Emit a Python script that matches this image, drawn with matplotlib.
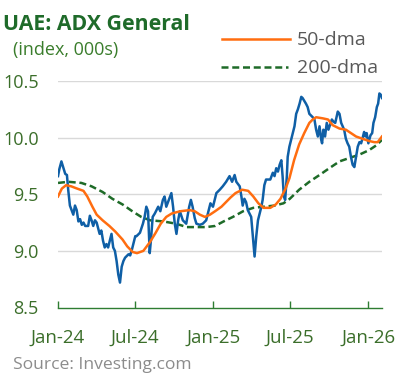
import matplotlib.pyplot as plt
from matplotlib.lines import Line2D
import pandas as pd

plt.rcParams['font.family'] = ['Open Sans', 'DejaVu Sans']

# ADX General index, thousands
price_dates = [
    '2024-01-01', '2024-01-04', '2024-01-09', '2024-01-14', '2024-01-18', '2024-01-22',
    '2024-01-25', '2024-01-29', '2024-02-02', '2024-02-06', '2024-02-10', '2024-02-14',
    '2024-02-18', '2024-02-22', '2024-02-26', '2024-03-01', '2024-03-05', '2024-03-12',
    '2024-03-16', '2024-03-20', '2024-03-24', '2024-03-28', '2024-04-01', '2024-04-08',
    '2024-04-12', '2024-04-16', '2024-04-20', '2024-04-24', '2024-04-28', '2024-05-02',
    '2024-05-06', '2024-05-10', '2024-05-14', '2024-05-18', '2024-05-22', '2024-05-26',
    '2024-05-30', '2024-06-03', '2024-06-07', '2024-06-15', '2024-06-19', '2024-06-23',
    '2024-06-27', '2024-07-01', '2024-07-04', '2024-07-12', '2024-07-19', '2024-07-23',
    '2024-07-27', '2024-07-31', '2024-08-04', '2024-08-07', '2024-08-11', '2024-08-16',
    '2024-08-24', '2024-08-29', '2024-09-04', '2024-09-08', '2024-09-12', '2024-09-19',
    '2024-09-24', '2024-09-28', '2024-10-02', '2024-10-06', '2024-10-10', '2024-10-14',
    '2024-10-21', '2024-10-29', '2024-11-05', '2024-11-09', '2024-11-13', '2024-11-18',
    '2024-11-22', '2024-11-30', '2024-12-07', '2024-12-15', '2024-12-21', '2024-12-25',
    '2024-12-31', '2025-01-04', '2025-01-08', '2025-01-16', '2025-01-23', '2025-01-31',
    '2025-02-08', '2025-02-14', '2025-02-20', '2025-02-24', '2025-03-04', '2025-03-08',
    '2025-03-11', '2025-03-15', '2025-03-19', '2025-03-23', '2025-03-31', '2025-04-04',
    '2025-04-08', '2025-04-12', '2025-04-16', '2025-04-24', '2025-04-27', '2025-05-01',
    '2025-05-05', '2025-05-15', '2025-05-21', '2025-05-25', '2025-05-29', '2025-06-02',
    '2025-06-06', '2025-06-10', '2025-06-13', '2025-06-16', '2025-06-19', '2025-06-23',
    '2025-06-25', '2025-06-29', '2025-07-03', '2025-07-07', '2025-07-11', '2025-07-15',
    '2025-07-19', '2025-07-23', '2025-07-27', '2025-07-30', '2025-08-07', '2025-08-11',
    '2025-08-15', '2025-08-23', '2025-08-27', '2025-08-31', '2025-09-04', '2025-09-08',
    '2025-09-12', '2025-09-14', '2025-09-17', '2025-09-21', '2025-09-25', '2025-09-29',
    '2025-10-07', '2025-10-11', '2025-10-15', '2025-10-21', '2025-10-25', '2025-10-29',
    '2025-11-05', '2025-11-09', '2025-11-13', '2025-11-17', '2025-11-21', '2025-11-25',
    '2025-11-29', '2025-12-03', '2025-12-07', '2025-12-11', '2025-12-15', '2025-12-18',
    '2025-12-22', '2025-12-25', '2025-12-28', '2026-01-01', '2026-01-06', '2026-01-10',
    '2026-01-13', '2026-01-17', '2026-01-21', '2026-01-24', '2026-01-27', '2026-01-30',
    '2026-02-02',
]
price = [
    9.66, 9.72, 9.79, 9.73, 9.68, 9.67,
    9.54, 9.40, 9.36, 9.32, 9.40, 9.36,
    9.26, 9.28, 9.23, 9.25, 9.22, 9.22,
    9.31, 9.27, 9.22, 9.27, 9.25, 9.15,
    9.18, 9.09, 9.03, 9.06, 9.03, 9.09,
    9.15, 9.03, 9.00, 8.91, 8.79, 8.72,
    8.86, 8.91, 8.94, 8.97, 8.96, 9.01,
    9.07, 9.13, 9.13, 9.16, 9.24, 9.30,
    9.39, 9.35, 8.98, 9.10, 9.30, 9.33,
    9.39, 9.35, 9.45, 9.48, 9.39, 9.46,
    9.51, 9.39, 9.24, 9.15, 9.27, 9.35,
    9.27, 9.24, 9.39, 9.45, 9.39, 9.29,
    9.24, 9.23, 9.24, 9.27, 9.36, 9.42,
    9.39, 9.45, 9.51, 9.54, 9.57, 9.61,
    9.66, 9.61, 9.67, 9.61, 9.57, 9.48,
    9.40, 9.46, 9.43, 9.36, 9.30, 9.13,
    8.95, 9.13, 9.27, 9.39, 9.45, 9.58,
    9.63, 9.63, 9.69, 9.66, 9.73, 9.70,
    9.76, 9.80, 9.66, 9.48, 9.45, 9.66,
    9.83, 9.92, 9.98, 10.04, 10.10, 10.21,
    10.25, 10.30, 10.36, 10.35, 10.30, 10.27,
    10.21, 10.18, 10.16, 10.07, 10.01, 10.10,
    9.98, 9.95, 10.07, 10.01, 10.13, 10.07,
    10.16, 10.14, 10.13, 10.23, 10.21, 10.13,
    10.07, 9.99, 9.95, 9.92, 9.83, 9.76,
    9.74, 9.83, 9.92, 9.96, 9.95, 9.99,
    10.05, 10.01, 10.04, 9.95, 10.02, 10.04,
    10.13, 10.18, 10.27, 10.30, 10.39, 10.38,
    10.35,
]

# 50-day moving average
dma50_dates = [
    '2024-01-01', '2024-01-10', '2024-01-20', '2024-02-01', '2024-02-15', '2024-03-01',
    '2024-03-10', '2024-03-22', '2024-04-01', '2024-04-15', '2024-05-01', '2024-05-15',
    '2024-06-01', '2024-06-12', '2024-06-25', '2024-07-05', '2024-07-20', '2024-08-05',
    '2024-08-18', '2024-08-30', '2024-09-12', '2024-09-25', '2024-10-15', '2024-11-06',
    '2024-11-18', '2024-11-30', '2024-12-12', '2024-12-24', '2025-01-05', '2025-01-20',
    '2025-02-10', '2025-02-22', '2025-03-10', '2025-03-24', '2025-04-05', '2025-04-17',
    '2025-04-29', '2025-05-15', '2025-05-28', '2025-06-08', '2025-06-20', '2025-06-29',
    '2025-07-10', '2025-07-22', '2025-08-03', '2025-08-15', '2025-08-23', '2025-08-31',
    '2025-09-16', '2025-09-28', '2025-10-09', '2025-10-25', '2025-11-09', '2025-11-21',
    '2025-12-03', '2025-12-18', '2026-01-03', '2026-01-15', '2026-01-23', '2026-02-02',
]
dma50 = [
    9.48, 9.55, 9.58, 9.57, 9.55, 9.53,
    9.48, 9.39, 9.32, 9.27, 9.22, 9.17,
    9.10, 9.04, 8.99, 8.98, 9.00, 9.08,
    9.16, 9.24, 9.30, 9.33, 9.35, 9.36,
    9.35, 9.32, 9.30, 9.32, 9.35, 9.39,
    9.47, 9.51, 9.54, 9.53, 9.48, 9.42,
    9.38, 9.38, 9.41, 9.46, 9.55, 9.64,
    9.80, 9.94, 10.04, 10.13, 10.16, 10.18,
    10.17, 10.16, 10.11, 10.08, 10.07, 10.04,
    10.01, 9.99, 9.97, 9.96, 9.96, 10.01,
]

# 200-day moving average
dma200_dates = [
    '2024-01-01', '2024-01-25', '2024-02-25', '2024-03-20', '2024-04-15', '2024-05-08',
    '2024-06-01', '2024-06-24', '2024-07-15', '2024-08-05', '2024-09-05', '2024-10-05',
    '2024-10-30', '2024-11-22', '2024-12-15', '2025-01-05', '2025-01-25', '2025-02-16',
    '2025-03-12', '2025-04-05', '2025-04-30', '2025-05-25', '2025-06-15', '2025-06-30',
    '2025-07-22', '2025-08-15', '2025-09-08', '2025-10-01', '2025-10-25', '2025-11-17',
    '2025-12-11', '2026-01-03', '2026-01-19', '2026-02-02',
]
dma200 = [
    9.60, 9.61, 9.60, 9.57, 9.52, 9.46,
    9.41, 9.35, 9.30, 9.27, 9.26, 9.24,
    9.21, 9.21, 9.21, 9.22, 9.26, 9.30,
    9.35, 9.38, 9.39, 9.40, 9.42, 9.46,
    9.54, 9.61, 9.67, 9.73, 9.79, 9.82,
    9.85, 9.89, 9.93, 9.98,
]

tick_dates = ['2024-01-01', '2024-07-01', '2025-01-01', '2025-07-01', '2026-01-01']
tick_labels = ['Jan-24', 'Jul-24', 'Jan-25', 'Jul-25', 'Jan-26']
y_ticks = [8.5, 9.0, 9.5, 10.0, 10.5]

BLUE = '#0f5fa6'
ORANGE = '#ff6d10'
DGREEN = '#1e6b28'
TXT_GREEN = '#3b6e2a'
GREY = '#595959'

fig = plt.figure(figsize=(3.96, 3.75), dpi=100)
ax = fig.add_axes([0.1465, 0.18, 0.818, 0.604])

ax.plot(pd.to_datetime(price_dates), price, color=BLUE, lw=1.8, zorder=3)
ax.plot(pd.to_datetime(dma50_dates), dma50, color=ORANGE, lw=1.8, zorder=4)
ax.plot(pd.to_datetime(dma200_dates), dma200, color=DGREEN, lw=1.8,
        dashes=(2.8, 1.5), zorder=2)

ax.set_ylim(8.5, 10.5)
ax.set_xlim(pd.Timestamp('2024-01-01'), pd.Timestamp('2026-02-02'))
ax.set_yticks(y_ticks)
ax.set_yticklabels([f'{v:.1f}' for v in y_ticks])
ax.set_xticks(pd.to_datetime(tick_dates))
ax.set_xticklabels(tick_labels)

for v in y_ticks[1:]:
    ax.axhline(v, color='#d9d9d9', lw=1.0, zorder=1)

for s in ['top', 'right', 'left']:
    ax.spines[s].set_visible(False)
ax.spines['bottom'].set_color('#2e7d32')
ax.spines['bottom'].set_linewidth(1.0)

ax.tick_params(axis='y', length=0, pad=14, labelsize=13, labelcolor=TXT_GREEN)
ax.tick_params(axis='x', direction='in', length=5, width=1.0, color='#2e7d32',
               pad=15, labelsize=13.5, labelcolor=TXT_GREEN)

# titles
fig.text(3 / 396, 1 - 30 / 375, 'UAE: ADX General', fontsize=15.3, fontweight='bold',
         color='#1f6b2a', va='baseline', ha='left')
fig.text(13 / 396, 1 - 55 / 375, '(index, 000s)', fontsize=13, color='#3a7d2c',
         va='baseline', ha='left')

# legend drawn by hand at the top right
fig.add_artist(Line2D([222 / 396, 290 / 396], [1 - 38.7 / 375, 1 - 38.7 / 375],
                      color=ORANGE, lw=1.8))
fig.add_artist(Line2D([221 / 396, 288 / 396], [1 - 67 / 375, 1 - 67 / 375],
                      color=DGREEN, lw=1.8, dashes=(2.8, 1.5)))
fig.text(297 / 396, 1 - 45 / 375, '50-dma', fontsize=14, color=GREY, va='baseline')
fig.text(297 / 396, 1 - 73 / 375, '200-dma', fontsize=14, color=GREY, va='baseline')

fig.text(13 / 396, 1 - 369 / 375, 'Source: Investing.com', fontsize=12.6, color='#8c8c8c',
         va='baseline')

fig.savefig('out.png', dpi=100)
